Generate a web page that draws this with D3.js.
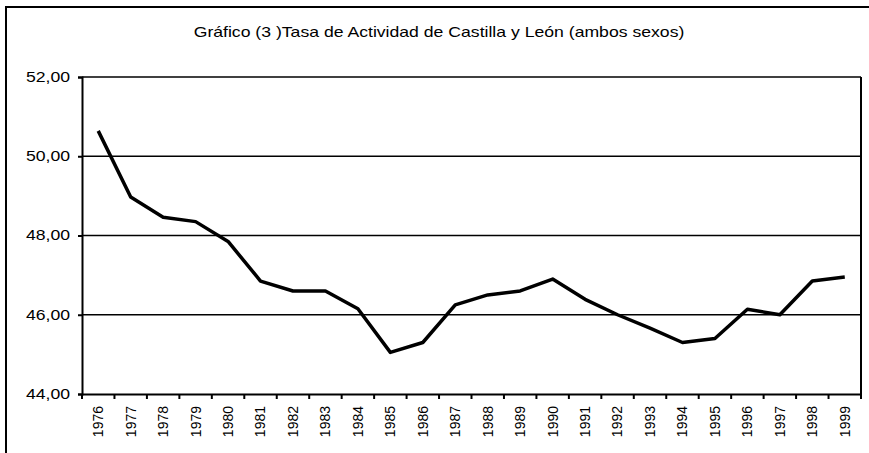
<!DOCTYPE html>
<html>
<head>
<meta charset="utf-8">
<script src="https://cdn.jsdelivr.net/npm/d3@7"></script>
<style>
  body { margin: 0; background: #fff; overflow: hidden; }
  svg { display: block; }
  svg text { font-family: "Liberation Sans", Arial, sans-serif; fill: #000; }
</style>
</head>
<body>
<svg width="869" height="453"></svg>
<script>
var years = ["1976", "1977", "1978", "1979", "1980", "1981", "1982", "1983", "1984", "1985", "1986", "1987",
    "1988", "1989", "1990", "1991", "1992", "1993", "1994", "1995", "1996", "1997", "1998", "1999"];
var tasa = [50.64, 48.97, 48.46, 48.35, 47.85, 46.85, 46.6, 46.6, 46.15, 45.05, 45.3, 46.25,
    46.5, 46.6, 46.9, 46.39, 46.0, 45.66, 45.3, 45.4, 46.14, 46.0, 46.85, 46.95];
var yTicks = [44, 46, 48, 50, 52];
var title = "Gráfico (3 )Tasa de Actividad de Castilla y León (ambos sexos)";

var svg = d3.select("svg"),
    margin = { top: 77, right: 8, bottom: 59, left: 82 },
    width = 869 - margin.left - margin.right,
    height = 453 - margin.top - margin.bottom,
    stretch = 1.26; // text in the source picture is drawn wider than normal

// outer chart frame: only the top and left edges are inside the picture
svg.append("path")
    .attr("d", "M6,453V7H869")
    .attr("fill", "none").attr("stroke", "#000").attr("stroke-width", 2);

svg.append("text")
    .attr("transform", "translate(439,37) scale(" + stretch + ",1)")
    .attr("text-anchor", "middle")
    .style("font-size", "14px")
    .text(title);

var x = d3.scaleBand().domain(years).range([0, width]);
var y = d3.scaleLinear().domain([44, 52]).range([height, 0]);

var g = svg.append("g")
    .attr("transform", "translate(" + margin.left + "," + margin.top + ")");

// grid lines
g.selectAll(".grid")
    .data(yTicks.filter(function (d) { return d > 44; }))
    .enter().append("line")
    .attr("x1", 0).attr("x2", width)
    .attr("y1", function (d) { return y(d); })
    .attr("y2", function (d) { return y(d); })
    .attr("stroke", "#000").attr("stroke-width", 1.5);

// right border of plot area
g.append("line")
    .attr("x1", width).attr("x2", width)
    .attr("y1", 0).attr("y2", height)
    .attr("stroke", "#000").attr("stroke-width", 2);

var yAxis = g.append("g")
    .call(d3.axisLeft(y).tickValues(yTicks).tickSize(4).tickPadding(7)
        .tickFormat(function (d) { return d3.format(".2f")(d).replace(".", ","); }));
yAxis.select(".domain").attr("stroke-width", 2);
yAxis.selectAll(".tick line").attr("stroke-width", 2);
yAxis.selectAll("text")
    .style("font-size", "14px")
    .attr("font-family", null)
    .attr("x", 0)
    .attr("transform", "translate(-12,0) scale(" + stretch + ",1)");

var xAxis = g.append("g")
    .attr("transform", "translate(0," + height + ")")
    .call(d3.axisBottom(x).tickSize(0).tickSizeOuter(0));
xAxis.select(".domain").attr("stroke-width", 2);
xAxis.selectAll("text")
    .style("font-size", "14px")
    .attr("font-family", null)
    .attr("text-anchor", "end")
    .attr("transform", "rotate(-90)")
    .attr("x", -12).attr("y", 0).attr("dy", "0.35em");

// ticks at band boundaries
var edges = years.map(function (d) { return x(d); }).concat([width]);
xAxis.selectAll(".edge")
    .data(edges)
    .enter().append("line")
    .attr("x1", function (d) { return d; }).attr("x2", function (d) { return d; })
    .attr("y1", 0).attr("y2", 5)
    .attr("stroke", "#000").attr("stroke-width", 2);

var line = d3.line()
    .x(function (d, i) { return x(years[i]) + x.bandwidth() / 2; })
    .y(function (d) { return y(d); });

g.append("path")
    .datum(tasa)
    .attr("d", line)
    .attr("fill", "none")
    .attr("stroke", "#000")
    .attr("stroke-width", 3.5)
    .attr("stroke-linejoin", "round");
</script>
</body>
</html>
